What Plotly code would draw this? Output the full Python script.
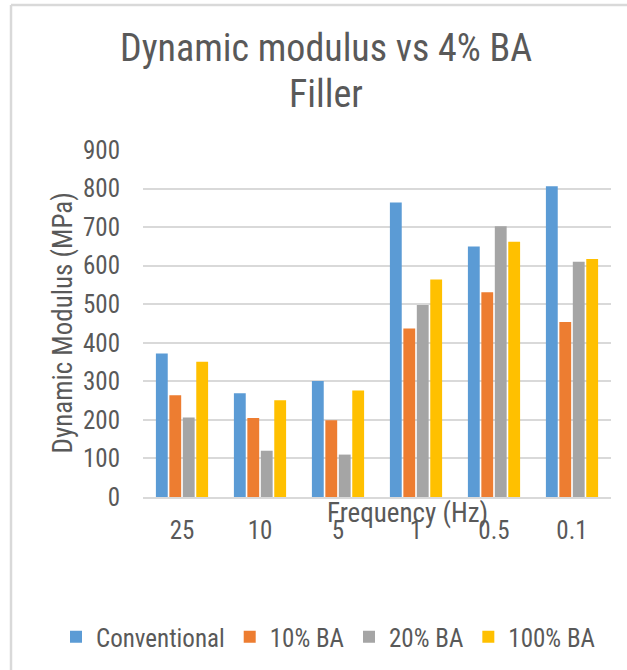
import plotly.graph_objects as go

categories = ["25", "10", "5", "1", "0.5", "0.1"]
conventional = [372, 269, 301, 764, 650, 806]
ba10 = [264, 205, 199, 437, 531, 454]
ba20 = [206, 120, 110, 498, 702, 610]
ba100 = [351, 251, 276, 564, 662, 617]

series_names = ["Conventional", "10% BA", "20% BA", "100% BA"]
series_values = [conventional, ba10, ba20, ba100]
colors = ["#5B9BD5", "#ED7D31", "#A5A5A5", "#FFC000"]

FONT = "Liberation Sans Narrow, Roboto Condensed, Roboto, sans-serif"
TXT = "#595959"

fig = go.Figure()
for name, vals, col in zip(series_names, series_values, colors):
    fig.add_trace(go.Bar(x=categories, y=vals, name=name, marker_color=col,
                         marker_line_width=0))

W, H = 627, 670
L, R, T, B = 143, 16, 150, 173
PW, PH = W - L - R, H - T - B


def px(xp):
    return (xp - L) / PW


def py(yp):
    return (H - B - yp) / PH


fig.update_layout(
    width=W, height=H,
    margin=dict(l=L, r=R, t=T, b=B, autoexpand=False),
    paper_bgcolor="white", plot_bgcolor="white",
    font=dict(family=FONT, color=TXT, size=25),
    barmode="group", bargap=0.31, bargroupgap=0.12,
    showlegend=True,
    legend=dict(orientation="h", xref="paper", yref="paper",
                x=px(56), xanchor="left", y=py(637), yanchor="middle",
                font=dict(size=25, color=TXT, family=FONT), itemwidth=30,
                traceorder="normal"),
    xaxis=dict(showgrid=False, showline=True, linecolor="#D9D9D9", linewidth=2,
               ticks="", ticklabelstandoff=10,
               tickfont=dict(size=25, color=TXT, family=FONT)),
    yaxis=dict(range=[0, 900], dtick=100, showgrid=True, gridcolor="#D9D9D9",
               gridwidth=1.5, zeroline=False, showline=False, ticks="",
               ticklabelstandoff=22,
               tickfont=dict(size=25, color=TXT, family=FONT)),
    annotations=[
        dict(text="Dynamic modulus vs 4% BA", xref="paper", yref="paper",
             x=px(326), y=py(48), xanchor="center", yanchor="middle",
             showarrow=False, font=dict(size=38, color=TXT, family=FONT)),
        dict(text="Filler", xref="paper", yref="paper",
             x=px(326), y=py(94), xanchor="center", yanchor="middle",
             showarrow=False, font=dict(size=38, color=TXT, family=FONT)),
        dict(text="Frequency (Hz)", xref="paper", yref="paper",
             x=px(407), y=py(513), xanchor="center", yanchor="middle",
             showarrow=False, font=dict(size=27, color=TXT, family=FONT)),
        dict(text="Dynamic Modulus (MPa)", xref="paper", yref="paper",
             x=px(62), y=0.5, textangle=-90,
             xanchor="center", yanchor="middle", showarrow=False,
             font=dict(size=27, color=TXT, family=FONT)),
    ],
    shapes=[
        dict(type="line", xref="paper", yref="paper",
             x0=px(11), x1=px(W + 5), y0=py(5), y1=py(5),
             line=dict(color="#D9D9D9", width=2.5)),
        dict(type="line", xref="paper", yref="paper",
             x0=px(11), x1=px(11), y0=py(5), y1=py(H + 5),
             line=dict(color="#D9D9D9", width=2.5)),
    ],
)

fig.write_html("out.html")
